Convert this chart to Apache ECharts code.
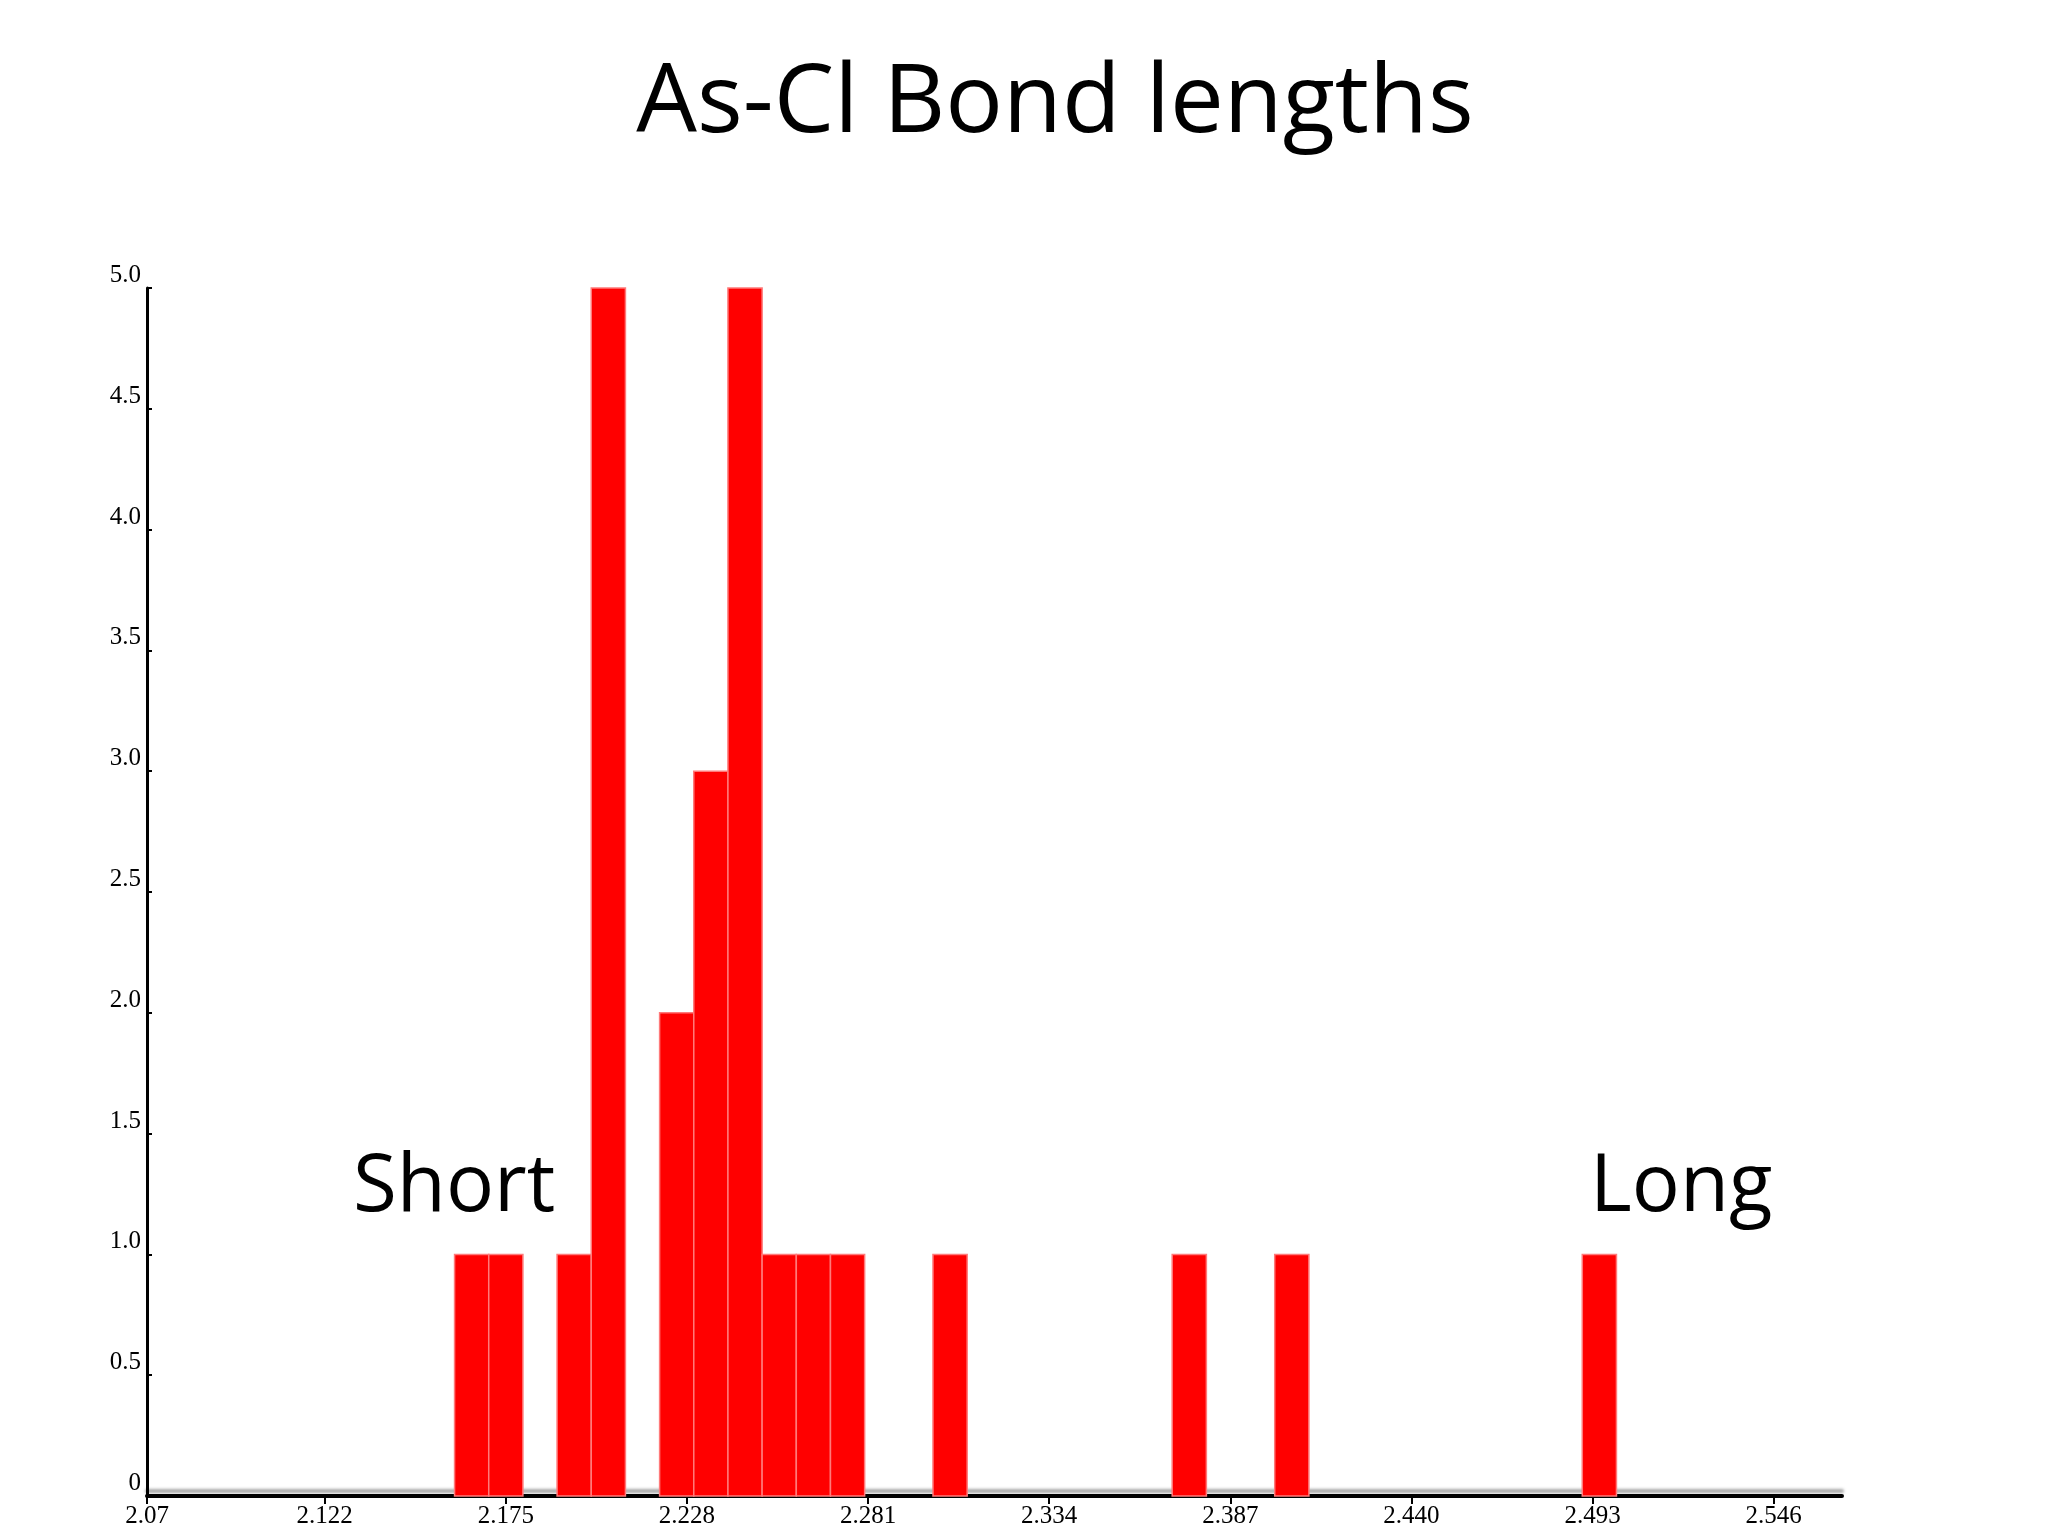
<!DOCTYPE html>
<html><head><meta charset="utf-8">
<script src="https://cdn.jsdelivr.net/npm/echarts@6/dist/echarts.min.js"></script>
<style>html,body{margin:0;padding:0;background:#fff}#c{width:2048px;height:1536px}</style>
</head><body><div id="c"></div>
<script>
const binStarts = [2.16,2.17,2.19,2.20,2.22,2.23,2.24,2.25,2.26,2.27,2.30,2.37,2.40,2.49];
const counts    = [1,1,1,5,2,3,5,1,1,1,1,1,1,1];
const binWidth = 0.01;
const xTicks = [2.07,2.122,2.175,2.228,2.281,2.334,2.387,2.440,2.493,2.546];
const xTickLabels = ['2.07','2.122','2.175','2.228','2.281','2.334','2.387','2.440','2.493','2.546'];
const yTickLabels = {0:'0',0.5:'0.5',1:'1.0',1.5:'1.5',2:'2.0',2.5:'2.5',3:'3.0',3.5:'3.5',4:'4.0',4.5:'4.5',5:'5.0'};

const data = binStarts.map((s,i)=>[s, s+binWidth, counts[i]]);
const chart = echarts.init(document.getElementById('c'));
chart.setOption({
  backgroundColor:'#fff',
  animation:false,
  title:{text:'As-Cl Bond lengths',left:1050,top:52,textAlign:'center',
    textStyle:{fontFamily:'Open Sans',fontWeight:'normal',fontSize:96,color:'#000'}},
  grid:{left:147,right:206,top:288,bottom:40,containLabel:false},
  xAxis:{type:'value',min:2.07,max:2.566,
    axisLine:{lineStyle:{color:'#000',width:4,shadowColor:'rgba(0,0,0,0.35)',shadowOffsetY:-5,shadowBlur:3}},
    axisTick:{show:true,customValues:xTicks,length:8,lineStyle:{color:'#000',width:2}},
    axisLabel:{customValues:xTicks,formatter:(v)=>xTickLabels[xTicks.findIndex(t=>Math.abs(t-v)<1e-6)],
      fontFamily:'Liberation Serif',fontSize:25,color:'#000',margin:8},
    splitLine:{show:false}},
  yAxis:{type:'value',min:0,max:5,interval:0.5,
    axisLine:{show:true,lineStyle:{color:'#000',width:3}},
    axisTick:{show:true,inside:true,length:5,lineStyle:{color:'#000',width:2}},
    axisLabel:{formatter:(v)=>yTickLabels[v],fontFamily:'Liberation Serif',fontSize:25,color:'#000',
      margin:6,verticalAlign:'bottom'},
    splitLine:{show:false}},
  series:[{
    type:'custom',
    data:data,
    encode:{x:[0,1],y:2},
    renderItem:function(params,api){
      const p0=api.coord([api.value(0),api.value(2)]);
      const p1=api.coord([api.value(1),0]);
      return {type:'rect',shape:{x:p0[0],y:p0[1],width:p1[0]-p0[0],height:p1[1]-p0[1]},
        style:{fill:'#ff0000',stroke:'#ff7a7a',lineWidth:1.5}};
    }
  }],
  graphic:[
    {type:'text',left:353,top:1148,style:{text:'Short',font:'80px "Open Sans"',fill:'#000'}},
    {type:'text',left:1590,top:1148,style:{text:'Long',font:'80px "Open Sans"',fill:'#000'}}
  ]
});
</script></body></html>
